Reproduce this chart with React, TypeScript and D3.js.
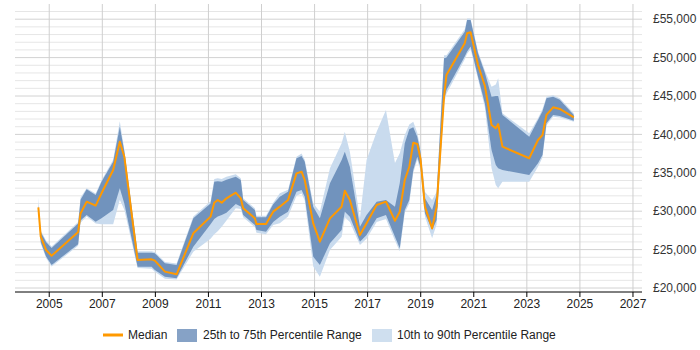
import React from 'react'
import * as d3 from 'd3'

// decimal year of each sample
const dates = [
    2004.59, 2004.68, 2004.88, 2005.09, 2006.09, 2006.18, 2006.41, 2006.75, 2006.97, 2007.41,
    2007.66, 2007.83, 2008.33, 2008.86, 2008.98, 2009.36, 2009.8, 2010.43, 2011.08, 2011.22,
    2011.35, 2011.5, 2011.68, 2012.03, 2012.22, 2012.31, 2012.75, 2012.81, 2013.17, 2013.44,
    2013.69, 2014.0, 2014.32, 2014.51, 2014.63, 2014.95, 2015.2, 2015.58, 2016.02, 2016.14,
    2016.33, 2016.71, 2016.96, 2017.34, 2017.69, 2018.03, 2018.21, 2018.4, 2018.57, 2018.72,
    2018.87, 2018.99, 2019.16, 2019.43, 2019.6, 2019.88, 2019.97, 2020.66, 2020.75, 2020.88,
    2021.16, 2021.42, 2021.67, 2021.83, 2021.92, 2022.08, 2023.09, 2023.42, 2023.59, 2023.74,
    2023.99, 2024.24, 2024.77,
]

const median = [
    30500, 26700, 24950, 24200, 27300, 29700, 31240, 30720, 32330, 35360,
    39050, 37100, 23650, 23730, 23560, 22130, 21780, 27120, 29290, 31110,
    31460, 31110, 31680, 32410, 31680, 30380, 29070, 28330, 28330, 29940,
    30590, 31460, 34930, 35140, 34060, 28420, 26030, 29070, 30590, 32670,
    31460, 26900, 28420, 30800, 31240, 28760, 29940, 34060, 35790, 38920,
    38750, 36890, 30590, 27770, 30590, 44910, 47730, 51860, 53160, 53290,
    49040, 46300, 41220, 40790, 41350, 38400, 36890, 39270, 39920, 42530,
    43530, 43310, 42230,
]

const p25 = [
    30300, 26000, 24100, 23000, 25700, 28800, 29510, 28630, 29070, 30160,
    33000, 31000, 22780, 22780, 22340, 21470, 21260, 25380, 28300, 29000,
    29300, 29500, 29800, 30940, 30600, 29510, 28200, 27550, 27330, 28600,
    29290, 29940, 32540, 32760, 31890, 24080, 23000, 25820, 27550, 29940,
    29290, 26030, 26900, 29070, 29510, 26680, 25170, 30160, 31460, 35360,
    37100, 35790, 29720, 27550, 28850, 44480, 45780, 50130, 50800, 51430,
    47510, 44000, 37970, 36000, 35590, 35360, 34710, 36230, 37320, 41440,
    42530, 42400, 41790,
]

const p75 = [
    30700, 27300, 26000, 25200, 28400, 31500, 32850, 32100, 33840, 36450,
    41000, 37800, 24600, 24600, 24520, 23210, 23000, 29070, 31000, 33840,
    33900, 33840, 34100, 34490, 34060, 31460, 30160, 29200, 29200, 30900,
    31890, 32540, 36890, 37190, 36450, 30590, 29070, 33630, 36670, 37750,
    35790, 27980, 29510, 31240, 31460, 30590, 33630, 38840, 40660, 40920,
    39700, 37800, 31680, 30160, 32110, 49910, 50000, 53380, 54900, 54900,
    50560, 48000, 44900, 45000, 45000, 42530, 39700, 41870, 43000, 44700,
    44910, 44500, 42530,
]

const p10 = [
    29900, 25800, 23900, 22800, 25500, 28500, 29300, 28400, 28300, 28300,
    31500, 30200, 22600, 22500, 22100, 21200, 21100, 24730, 26400, 27000,
    27400, 27980, 28800, 30380, 30300, 29200, 27900, 27200, 27000, 28200,
    28420, 29300, 32000, 32300, 31400, 22800, 21470, 24950, 26680, 29200,
    28600, 25600, 26400, 28600, 29000, 26200, 24800, 29800, 31000, 35000,
    36700, 35400, 29300, 26470, 28300, 44000, 45300, 49800, 50500, 51100,
    47200, 43500, 35590, 33400, 33000, 33840, 33840, 35790, 37000, 41200,
    42300, 42200, 41650,
]

const p90 = [
    31800, 27500, 26200, 25400, 28600, 31800, 33000, 32300, 34000, 36700,
    41700, 38000, 24800, 24800, 24700, 23400, 23200, 29300, 31300, 34200,
    34300, 34200, 34500, 34800, 34300, 31700, 30400, 29400, 29400, 31100,
    32330, 32800, 37100, 37500, 36700, 31030, 29940, 35590, 38840, 40350,
    37750, 29070, 36670, 40350, 43180, 36270, 37540, 39920, 41300, 41650,
    40200, 38200, 32500, 31460, 32500, 50300, 50300, 53700, 55100, 55100,
    50800, 48300, 46210, 46500, 47300, 42750, 40140, 42100, 43300, 44910,
    45100, 44700, 42750,
]

const yearTicks = [2005, 2007, 2009, 2011, 2013, 2015, 2017, 2019, 2021, 2023, 2025, 2027]
const salaryTicks = [20000, 25000, 30000, 35000, 40000, 45000, 50000, 55000]

const legendItems = ['Median', '25th to 75th Percentile Range', '10th to 90th Percentile Range']

const width = 700
const height = 350
const font = '"Liberation Sans", Arial, sans-serif'

const App: React.FC = () => {
    const x = d3.scaleLinear().domain([2003.71, 2027.34]).range([15, 642])
    const y = d3.scaleLinear().domain([19500, 57000]).range([291.84, 3.84])

    const rows = dates.map((d, i) => ({
        d,
        med: median[i],
        lo25: p25[i],
        hi75: p75[i],
        lo10: p10[i],
        hi90: p90[i],
    }))
    type Row = (typeof rows)[number]

    const outer = d3
        .area<Row>()
        .x((r) => x(r.d))
        .y0((r) => y(r.lo10))
        .y1((r) => y(r.hi90))
    const inner = d3
        .area<Row>()
        .x((r) => x(r.d))
        .y0((r) => y(r.lo25))
        .y1((r) => y(r.hi75))
    const line = d3
        .line<Row>()
        .x((r) => x(r.d))
        .y((r) => y(r.med))

    const minorTicks = d3.range(20000, 56001, 1000).filter((v) => v % 5000 !== 0)
    const [x0, x1] = x.range()
    const plotTop = 4
    const plotBottom = 292

    return (
        <div style={{ position: 'absolute', left: 0, top: 0 }}>
            <svg width={width} height={height} style={{ display: 'block', fontFamily: font }}>
                <rect width={width} height={height} fill="#fff" />

                {/* grid */}
                {minorTicks.map((v) => (
                    <line key={'m' + v} x1={x0} x2={x1} y1={y(v)} y2={y(v)} stroke="#e6e6e6" />
                ))}
                {salaryTicks.map((v) => (
                    <line key={'M' + v} x1={x0} x2={x1} y1={y(v)} y2={y(v)} stroke="#d2d2d2" />
                ))}
                {yearTicks.map((t) => (
                    <line key={'v' + t} x1={x(t)} x2={x(t)} y1={plotTop} y2={plotBottom} stroke="#cfcfcf" />
                ))}

                {/* bands and median */}
                <path d={outer(rows) ?? ''} fill="#c9dbee" />
                <path d={inner(rows) ?? ''} fill="#7193bd" />
                <path d={line(rows) ?? ''} fill="none" stroke="#ff9900" strokeWidth={2} strokeLinejoin="round" />

                {/* x axis */}
                <line x1={x0} x2={x1} y1={plotBottom} y2={plotBottom} stroke="#000" strokeWidth={1} />
                {yearTicks.map((t) => (
                    <g key={'t' + t}>
                        <line x1={x(t)} x2={x(t)} y1={plotBottom} y2={plotBottom + 5} stroke="#000" />
                        <text x={x(t)} y={308} textAnchor="middle" fontSize={12} fill="#222">
                            {t}
                        </text>
                    </g>
                ))}

                {/* y labels */}
                {salaryTicks.map((v) => (
                    <text key={'y' + v} x={653} y={y(v)} dy="0.35em" fontSize={12} fill="#333">
                        {'£' + d3.format(',')(v)}
                    </text>
                ))}

                {/* legend */}
                <line x1={103} x2={123} y1={335} y2={335} stroke="#ff9900" strokeWidth={3} />
                <text x={128} y={335} dy="0.35em" fontSize={12} fill="#222">
                    {legendItems[0]}
                </text>
                <rect x={177} y={329} width={20} height={13} fill="#86a2c6" />
                <text x={203} y={335} dy="0.35em" fontSize={12} fill="#222">
                    {legendItems[1]}
                </text>
                <rect x={372} y={329} width={20} height={13} fill="#cfdfef" />
                <text x={397} y={335} dy="0.35em" fontSize={12} fill="#222">
                    {legendItems[2]}
                </text>
            </svg>
        </div>
    )
}

export default App
